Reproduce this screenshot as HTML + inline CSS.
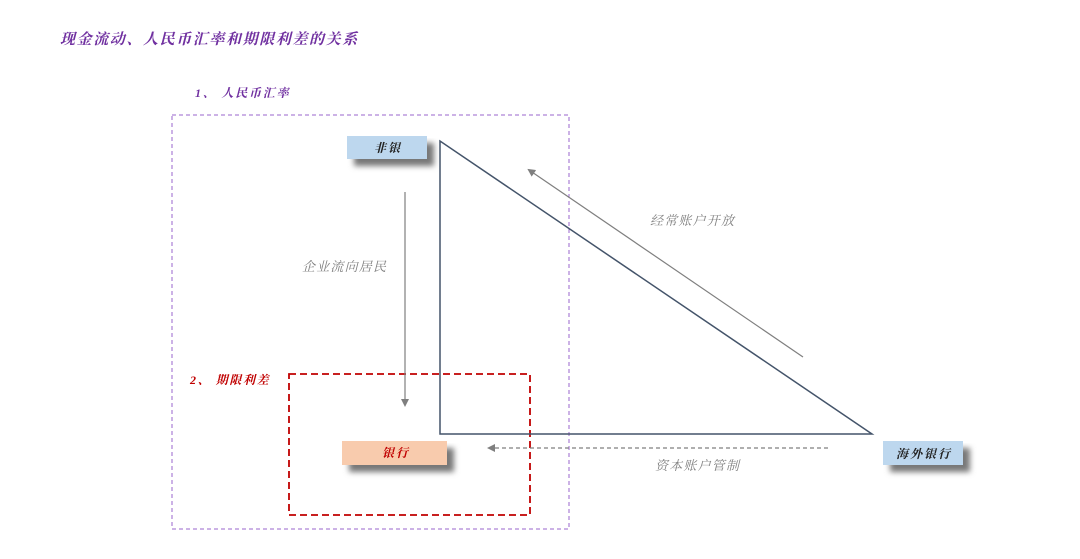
<!DOCTYPE html>
<html><head><meta charset="utf-8"><style>
body{margin:0;background:#fff;}
svg{display:block;}
text{font-family:"Liberation Serif","Noto Serif CJK SC","Noto Sans CJK SC",serif;font-style:italic;}
</style></head><body>
<svg width="1080" height="559" viewBox="0 0 1080 559">
<defs>
<filter id="sh" x="-20%" y="-20%" width="160%" height="180%"><feGaussianBlur stdDeviation="3"/></filter>
<marker id="ah" markerWidth="8" markerHeight="8" refX="6" refY="4" orient="auto" markerUnits="userSpaceOnUse"><path d="M0,0 L8,4 L0,8 z" fill="#7f7f7f"/></marker>
</defs>
<text x="60" y="44" font-size="15" fill="#7030a0" font-weight="bold" letter-spacing="1.6">现金流动、人民币汇率和期限利差的关系</text>
<text x="195" y="97" font-size="12" fill="#7030a0" font-weight="bold" letter-spacing="1.8">1、 人民币汇率</text>
<rect x="172" y="115" width="397" height="414" fill="none" stroke="#9966cc" stroke-width="1" stroke-dasharray="4,3"/>
<text x="190" y="384" font-size="12" fill="#c00000" font-weight="bold" letter-spacing="1.6">2、 期限利差</text>
<rect x="289" y="374" width="241" height="141" fill="none" stroke="#c00000" stroke-width="1.8" stroke-dasharray="7,4"/>
<path d="M440,141 L440,434 L872,434 Z" fill="none" stroke="#44546a" stroke-width="1.5"/>
<line x1="803" y1="357" x2="529" y2="170" stroke="#7f7f7f" stroke-width="1.2" marker-end="url(#ah)"/>
<line x1="405" y1="192" x2="405" y2="405" stroke="#7f7f7f" stroke-width="1.2" marker-end="url(#ah)"/>
<line x1="828" y1="448" x2="489" y2="448" stroke="#7f7f7f" stroke-width="1.2" stroke-dasharray="4,3" marker-end="url(#ah)"/>
<text x="650" y="225" font-size="13" fill="#7f7f7f" letter-spacing="1.2">经常账户开放</text>
<text x="302" y="271" font-size="13" fill="#7f7f7f" letter-spacing="1.2">企业流向居民</text>
<text x="655" y="470" font-size="13" fill="#7f7f7f" letter-spacing="1.2">资本账户管制</text>
<rect x="354" y="143" width="80" height="23" fill="#777" filter="url(#sh)"/>
<rect x="347" y="136" width="80" height="23" fill="#bdd7ee"/>
<text x="388" y="152" font-size="12" fill="#222" text-anchor="middle" font-weight="bold" letter-spacing="2">非银</text>
<rect x="349" y="448" width="105" height="24" fill="#777" filter="url(#sh)"/>
<rect x="342" y="441" width="105" height="24" fill="#f8cbad"/>
<text x="396" y="457" font-size="12" fill="#c00000" text-anchor="middle" font-weight="bold" letter-spacing="2">银行</text>
<rect x="890" y="448" width="80" height="24" fill="#777" filter="url(#sh)"/>
<rect x="883" y="441" width="80" height="24" fill="#bdd7ee"/>
<text x="924" y="458" font-size="12" fill="#222" text-anchor="middle" font-weight="bold" letter-spacing="2">海外银行</text>
</svg>
</body></html>
